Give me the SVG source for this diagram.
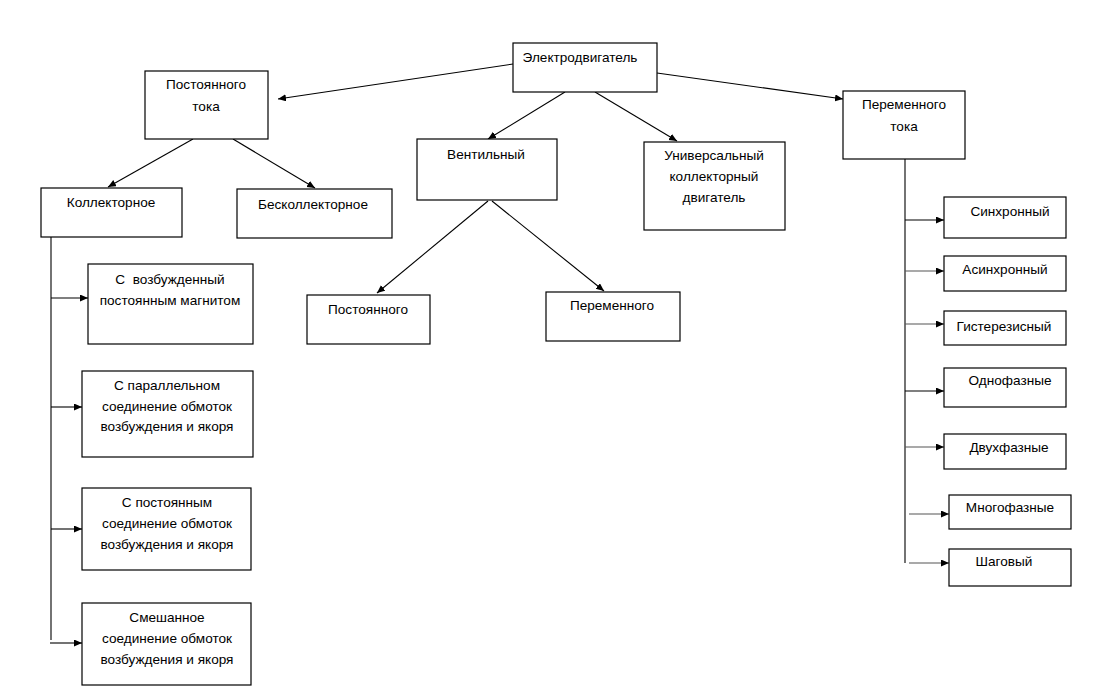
<svg xmlns="http://www.w3.org/2000/svg" width="1094" height="700" viewBox="0 0 1094 700">
<style>
rect{fill:#fff;stroke:#000;stroke-width:1.2}
text{font-family:"Liberation Sans",Arial,sans-serif;font-size:13.6px;fill:#000;text-anchor:middle}
.c line{stroke:#000;stroke-width:1.1;marker-end:url(#ah)}
.c .g{stroke:#555}
.c .p{marker-end:none}
</style>
<defs>
<marker id="ah" markerUnits="userSpaceOnUse" markerWidth="9" markerHeight="8" refX="8" refY="3.5" orient="auto">
<path d="M0,0 L8,3.5 L0,7 z" fill="#000"/>
</marker>
</defs>
<rect x="0" y="0" width="1094" height="700" style="fill:#fff;stroke:none"/>
<g class="c" id="connectors">
<line x1="513" y1="64" x2="278" y2="99"/>
<line x1="657" y1="73" x2="843" y2="99"/>
<line x1="565" y1="92" x2="488" y2="139"/>
<line x1="595" y1="92" x2="677" y2="141"/>
<line x1="193" y1="139" x2="108" y2="187"/>
<line x1="233" y1="139" x2="315" y2="188"/>
<line x1="488" y1="201" x2="377" y2="293"/>
<line x1="492" y1="201" x2="604" y2="291"/>
<line class="p" x1="51" y1="237" x2="51" y2="640"/>
<line x1="51" y1="298" x2="88" y2="298"/>
<line x1="51" y1="407" x2="82" y2="407"/>
<line x1="51" y1="529" x2="82" y2="529"/>
<line x1="50" y1="643" x2="82" y2="643"/>
<line class="p" x1="905" y1="159" x2="905" y2="563"/>
<line x1="905" y1="220" x2="944" y2="220"/>
<line class="g" x1="905" y1="271" x2="944" y2="271"/>
<line class="g" x1="905" y1="324" x2="944" y2="324"/>
<line x1="905" y1="391" x2="944" y2="391"/>
<line class="g" x1="905" y1="447" x2="944" y2="447"/>
<line class="g" x1="909" y1="514" x2="949" y2="514"/>
<line class="g" x1="909" y1="563" x2="949" y2="563"/>
</g>
<g id="n-motor"><rect x="513" y="43" width="144" height="49"/><text x="580" y="62">Электродвигатель</text></g>
<g id="n-dc"><rect x="145" y="71" width="123" height="68"/><text x="206" y="89">Постоянного</text><text x="206" y="111">тока</text></g>
<g id="n-ac"><rect x="843" y="91" width="122" height="68"/><text x="904" y="109">Переменного</text><text x="904" y="131">тока</text></g>
<g id="n-coll"><rect x="41" y="188" width="141" height="49"/><text x="111" y="207">Коллекторное</text></g>
<g id="n-brushless"><rect x="237" y="189" width="155" height="49"/><text x="313" y="209">Бесколлекторное</text></g>
<g id="n-valve"><rect x="417" y="139" width="140" height="61"/><text x="486" y="159">Вентильный</text></g>
<g id="n-univ"><rect x="644" y="142" width="141" height="88"/><text x="714" y="160">Универсальный</text><text x="714" y="181">коллекторный</text><text x="714" y="202">двигатель</text></g>
<g id="n-vdc"><rect x="307" y="295" width="123" height="49"/><text x="368" y="314">Постоянного</text></g>
<g id="n-vac"><rect x="546" y="292" width="134" height="49"/><text x="612" y="310">Переменного</text></g>
<g id="n-c1"><rect x="88" y="264" width="165" height="80"/><text x="170" y="284" xml:space="preserve">С  возбужденный</text><text x="170" y="305">постоянным магнитом</text></g>
<g id="n-c2"><rect x="82" y="371" width="171" height="86"/><text x="167" y="390">С параллельном</text><text x="167" y="411">соединение обмоток</text><text x="167" y="431">возбуждения и якоря</text></g>
<g id="n-c3"><rect x="82" y="488" width="169" height="82"/><text x="167" y="507">С постоянным</text><text x="167" y="528">соединение обмоток</text><text x="167" y="549">возбуждения и якоря</text></g>
<g id="n-c4"><rect x="82" y="603" width="169" height="82"/><text x="167" y="622">Смешанное</text><text x="167" y="643">соединение обмоток</text><text x="167" y="664">возбуждения и якоря</text></g>
<g id="n-sync"><rect x="944" y="197" width="122" height="41"/><text x="1010" y="216">Синхронный</text></g>
<g id="n-async"><rect x="944" y="256" width="122" height="35"/><text x="1005" y="274">Асинхронный</text></g>
<g id="n-hyst"><rect x="944" y="311" width="122" height="34"/><text x="1004" y="331">Гистерезисный</text></g>
<g id="n-one"><rect x="944" y="368" width="122" height="39"/><text x="1010" y="385">Однофазные</text></g>
<g id="n-two"><rect x="944" y="434" width="122" height="35"/><text x="1009" y="452">Двухфазные</text></g>
<g id="n-multi"><rect x="949" y="495" width="122" height="34"/><text x="1010" y="512">Многофазные</text></g>
<g id="n-step"><rect x="949" y="549" width="122" height="37"/><text x="1004" y="566">Шаговый</text></g>
</svg>
